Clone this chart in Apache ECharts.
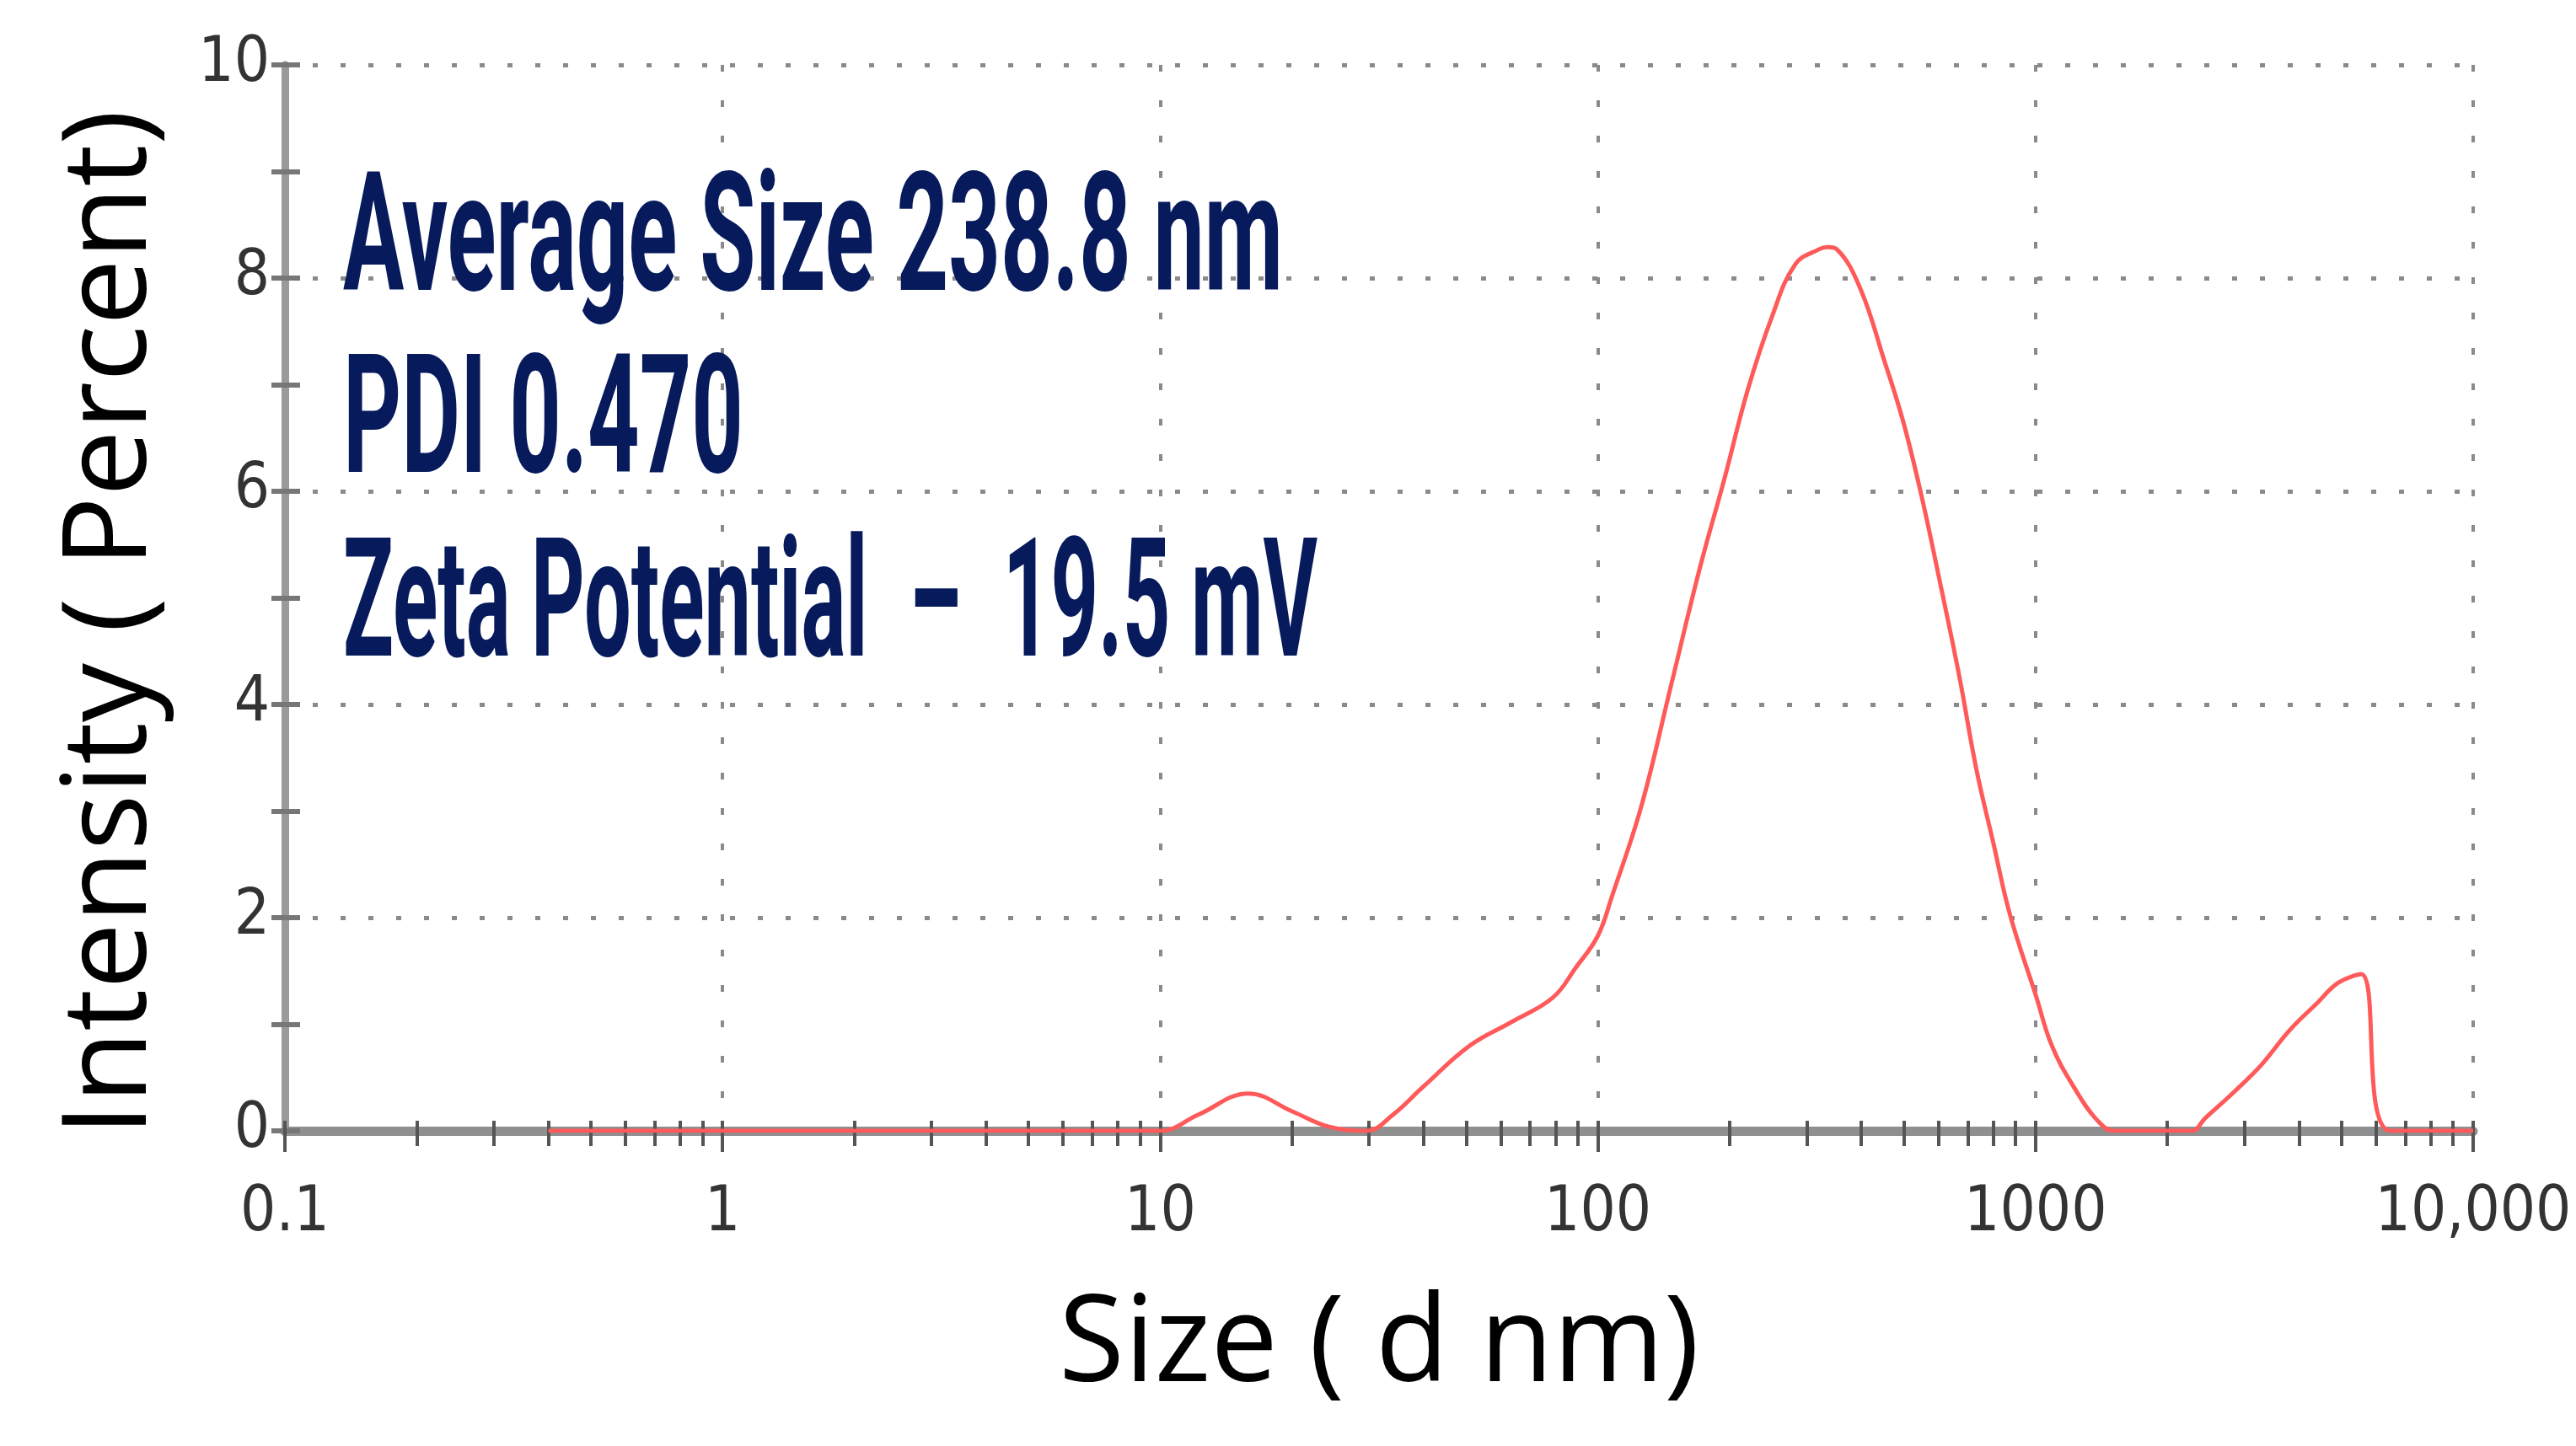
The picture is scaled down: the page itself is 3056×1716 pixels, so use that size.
<!DOCTYPE html>
<html>
<head>
<meta charset="utf-8">
<title>Size distribution</title>
<script src="https://cdn.jsdelivr.net/npm/echarts@6.0.0/dist/echarts.min.js"></script>
<style>
  body { margin: 0; background: #fff; }
  #chart { width: 3056px; height: 1716px; }
</style>
</head>
<body>
<div id="chart"></div>
<script>
  // size (d nm) and intensity (%)
  var sizes = [0.4, 1, 4, 10, 12.2, 15.9, 20.1, 24.2, 29.6, 34, 39.8, 51, 63.4, 78.9, 89, 100,
    107.7, 125.6, 146.6, 171, 194.4, 220, 249.5, 282.6, 320, 335, 351.6, 398, 451, 498, 548, 604, 670,
    732, 800, 874, 1000, 1092, 1228, 1383, 1516, 1960, 2275, 2443, 2833, 3283, 3800, 4403,
    4920, 5546, 6475, 10000];
  var intensity = [0, 0, 0, 0, 0.15, 0.35, 0.18, 0.04, 0, 0.15, 0.41, 0.80, 1.02, 1.25, 1.53, 1.83,
    2.2, 3.04, 4.16, 5.28, 6.11, 6.95, 7.63, 8.13, 8.27, 8.29, 8.27, 7.9, 7.23, 6.66, 5.97, 5.16, 4.26,
    3.40, 2.71, 2.03, 1.28, 0.79, 0.40, 0.10, 0, 0, 0, 0.12, 0.36, 0.62, 0.94, 1.2,
    1.39, 1.47, 0, 0];

  var xTickLabels = ['0.1', '1', '10', '100', '1000', '10,000'];
  var yTickLabels = ['0', '2', '4', '6', '8', '10'];
  var notes = ['Average Size 238.8 nm', 'PDI 0.470', 'Zeta Potential  \u2013  19.5 mV'];

  // minor ticks 2..9 of each decade, in log10 space
  var minorTicks = [];
  var allTicks = [];
  for (var d = -1; d <= 3; d++) {
    allTicks.push(d);
    for (var m = 2; m <= 9; m++) {
      minorTicks.push(d + Math.log10(m));
      allTicks.push(d + Math.log10(m));
    }
  }
  allTicks.push(4);

  var noteFont = 'bold 196px Roboto';
  var noteY = [295, 511, 729];
  var noteW = [1115, 475, 1156];
  var measure = document.createElement('canvas').getContext('2d');
  function fitScale(text, w) {
    measure.font = noteFont;
    return w / measure.measureText(text).width;
  }

  var tickFont = '"Liberation Sans Narrow", "DejaVu Sans Condensed", Roboto, sans-serif';
  var gridColor = '#8a8a8a';

  var chart = echarts.init(document.getElementById('chart'));
  chart.setOption({
    backgroundColor: '#fff',
    animation: false,
    grid: { left: 338, right: 122, top: 77, bottom: 374 },
    xAxis: [{
      type: 'log',
      logBase: 10,
      min: 0.1,
      max: 10000,
      splitNumber: 5,
      name: 'Size ( d nm)',
      nameLocation: 'middle',
      nameGap: 186,
      nameTextStyle: { fontFamily: 'Open Sans', fontSize: 142, color: '#000' },
      axisLine: { onZero: false, lineStyle: { color: '#8f8f8f', width: 11 } },
      axisTick: { length: 25, lineStyle: { color: '#555', width: 4 } },
      axisLabel: {
        margin: 62, fontSize: 74, fontFamily: tickFont, color: '#333',
        formatter: function (v) { return xTickLabels[Math.round(Math.log10(v)) + 1]; }
      },
      splitLine: { show: true, lineStyle: { color: gridColor, width: 4, type: [8, 34] } }
    }, {
      type: 'value', min: -1, max: 4, position: 'bottom',
      axisLine: { show: false, onZero: false },
      axisLabel: { show: false },
      splitLine: { show: false },
      axisTick: { show: true, length: 18, customValues: minorTicks, lineStyle: { color: '#555', width: 4 } }
    }, {
      type: 'value', min: -1, max: 4, position: 'bottom',
      axisLine: { show: false, onZero: false },
      axisLabel: { show: false },
      splitLine: { show: false },
      axisTick: { show: true, inside: true, length: 12, customValues: allTicks, lineStyle: { color: '#555', width: 4 } }
    }],
    yAxis: [{
      type: 'value',
      min: 0,
      max: 10,
      interval: 2,
      position: 'left',
      name: 'Intensity ( Percent)',
      nameLocation: 'middle',
      nameRotate: 90,
      nameGap: 135,
      nameTextStyle: { fontFamily: 'Open Sans', fontSize: 140, color: '#000', padding: [0, 60, 0, 0] },
      axisLine: { show: true, onZero: false, lineStyle: { color: '#9a9a9a', width: 9 } },
      axisTick: { show: true, length: 16, lineStyle: { color: '#777', width: 6 } },
      minorTick: { show: true, splitNumber: 2, length: 16, lineStyle: { color: '#777', width: 6 } },
      axisLabel: {
        margin: 18, fontSize: 74, fontFamily: tickFont, color: '#333',
        formatter: function (v) { return yTickLabels[Math.round(v / 2)]; }
      },
      splitLine: { show: true, lineStyle: { color: gridColor, width: 5, type: [6, 27] } }
    }, {
      type: 'value', min: 0, max: 10, interval: 1, position: 'left',
      axisLine: { show: false, onZero: false },
      axisLabel: { show: false },
      splitLine: { show: false },
      axisTick: { show: true, inside: true, length: 18, lineStyle: { color: '#777', width: 6 } }
    }],
    graphic: notes.map(function (t, i) {
      return {
        type: 'text',
        x: 407,
        y: noteY[i],
        scaleX: fitScale(t, noteW[i]),
        z: 10,
        style: { text: t, font: noteFont, fill: '#061a5c', align: 'left', verticalAlign: 'middle' }
      };
    }),
    series: [{
      type: 'line',
      data: sizes.map(function (s, i) { return [s, intensity[i]]; }),
      showSymbol: false,
      smooth: 0.4,
      lineStyle: { color: '#ff5a5a', width: 5 },
      z: 5
    }]
  });
</script>
</body>
</html>
